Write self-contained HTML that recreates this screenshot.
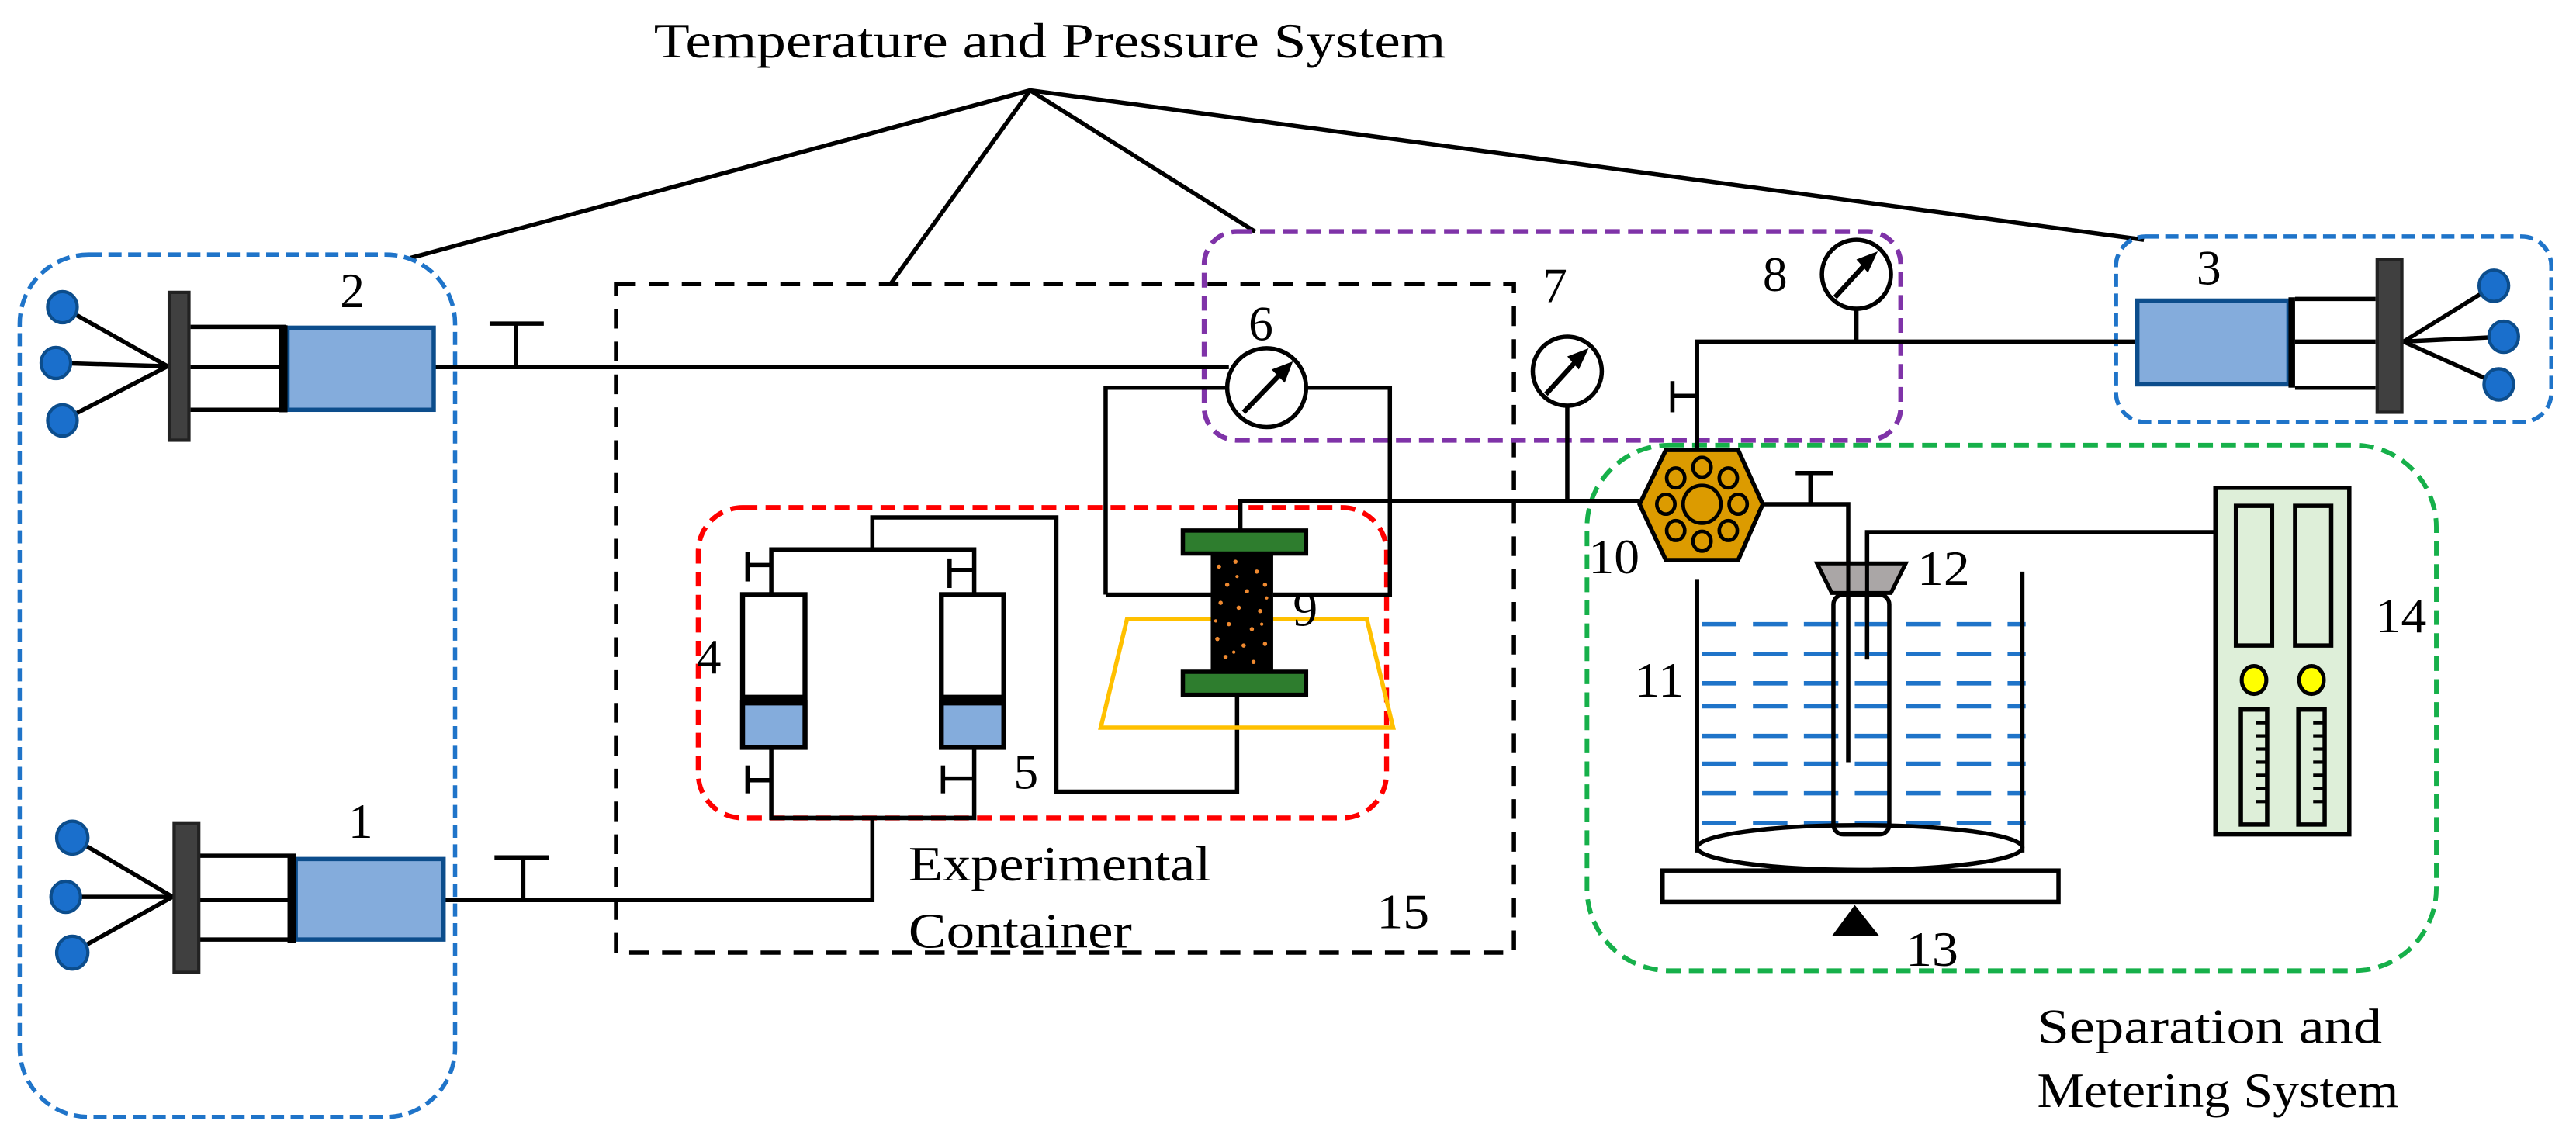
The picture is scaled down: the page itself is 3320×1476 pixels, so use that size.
<!DOCTYPE html>
<html><head><meta charset="utf-8"><style>html,body{margin:0;padding:0;background:#fff}svg{display:block}text{font-family:"Liberation Serif",serif;fill:#000}</style></head><body>
<svg width="3320" height="1476" viewBox="0 0 1568 697.1" xmlns="http://www.w3.org/2000/svg">
<g fill="none" stroke-linecap="butt">
<g stroke="#000" stroke-width="2.6">
<line x1="627" y1="55" x2="250" y2="157"/>
<line x1="627" y1="55" x2="542" y2="173"/>
<line x1="627" y1="55" x2="764" y2="141"/>
<line x1="627" y1="55" x2="1305" y2="146"/>
</g>
<rect x="12" y="155" width="265" height="525" rx="42" stroke="#1f74c9" stroke-width="2.6" stroke-dasharray="8 4"/>
<rect x="375" y="173" width="546.5" height="407" stroke="#000" stroke-width="2.6" stroke-dasharray="12 8"/>
<rect x="425" y="309" width="419" height="189" rx="27" stroke="#f00" stroke-width="3" stroke-dasharray="9 5"/>
<rect x="733" y="141" width="424" height="127" rx="20" stroke="#7f33a8" stroke-width="3" stroke-dasharray="9 5"/>
<rect x="1288" y="144" width="265" height="113" rx="18" stroke="#1f74c9" stroke-width="2.6" stroke-dasharray="8 4"/>
<rect x="966" y="271" width="517" height="320" rx="50" stroke="#16b04a" stroke-width="2.8" stroke-dasharray="9 5"/>

<g stroke="#000" stroke-width="2.6">
<polyline points="264,223.5 748,223.5"/>
<line x1="314" y1="197" x2="314" y2="223.5"/><line x1="298" y1="197" x2="331" y2="197"/>
<polyline points="270,548 531,548 531,498"/>
<line x1="318.5" y1="522" x2="318.5" y2="548"/><line x1="301" y1="522" x2="334" y2="522"/>
<polyline points="673,362 673,236 748,236"/>
<polyline points="795,236 846,236 846,362 775,362"/>
<line x1="673" y1="362" x2="737" y2="362"/>
<polyline points="755,323 755,305 998,305"/>
<polyline points="753,423 753,482 643,482 643,315 531,315 531,334.5"/>
<polyline points="469.5,362 469.5,334.5 593,334.5 593,362"/>
<polyline points="469.5,455 469.5,498 593,498 593,455"/>
<line x1="455" y1="336" x2="455" y2="354"/><line x1="455" y1="344" x2="469.5" y2="344"/>
<line x1="578" y1="340" x2="578" y2="358"/><line x1="578" y1="347" x2="593" y2="347"/>
<line x1="455" y1="466" x2="455" y2="483"/><line x1="455" y1="475" x2="469.5" y2="475"/>
<line x1="574" y1="466" x2="574" y2="483"/><line x1="574" y1="474" x2="593" y2="474"/>
<line x1="954" y1="248" x2="954" y2="305"/>
<line x1="1130" y1="189" x2="1130" y2="208"/>
<polyline points="1033,273 1033,208 1301,208"/>
<line x1="1018" y1="232" x2="1018" y2="251"/><line x1="1018" y1="241" x2="1033" y2="241"/>
<polyline points="1073,307 1125,307 1125,464"/>
<line x1="1102" y1="288" x2="1102" y2="307"/><line x1="1093" y1="288" x2="1116" y2="288"/>
<polyline points="1348.5,324 1136.5,324 1136.5,401.5"/>
</g>

<g stroke="#000" stroke-width="2.6">
<line x1="116" y1="199" x2="174" y2="199"/><line x1="116" y1="223.5" x2="174" y2="223.5"/><line x1="116" y1="249.5" x2="174" y2="249.5"/>
<line x1="102" y1="223" x2="38" y2="187"/><line x1="102" y1="223" x2="34" y2="221"/><line x1="102" y1="223" x2="38" y2="256"/>
<line x1="120" y1="521" x2="180" y2="521"/><line x1="120" y1="548" x2="180" y2="548"/><line x1="120" y1="572" x2="180" y2="572"/>
<line x1="105" y1="546" x2="44" y2="510"/><line x1="105" y1="546" x2="40" y2="546"/><line x1="105" y1="546" x2="44" y2="580"/>
<line x1="1397" y1="182" x2="1446" y2="182"/><line x1="1397" y1="208" x2="1446" y2="208"/><line x1="1397" y1="236" x2="1446" y2="236"/>
<line x1="1463" y1="208" x2="1518" y2="174"/><line x1="1463" y1="208" x2="1524" y2="205"/><line x1="1463" y1="208" x2="1521" y2="234"/>
</g>
<rect x="103" y="178" width="12" height="90" fill="#404040" stroke="#222" stroke-width="2"/>
<rect x="175" y="199.5" width="89" height="50" fill="#84acdc" stroke="#0c4d8c" stroke-width="2.6"/>
<rect x="170" y="198" width="5" height="53" fill="#000"/>
<rect x="106" y="501" width="15" height="91" fill="#404040" stroke="#222" stroke-width="2"/>
<rect x="180" y="523" width="90" height="49" fill="#84acdc" stroke="#0c4d8c" stroke-width="2.6"/>
<rect x="175" y="521" width="5" height="53" fill="#000"/>
<rect x="1447" y="158" width="15" height="93" fill="#404040" stroke="#222" stroke-width="2"/>
<rect x="1301" y="183" width="92" height="51" fill="#84acdc" stroke="#0c4d8c" stroke-width="2.6"/>
<rect x="1393" y="181" width="4" height="55" fill="#000"/>
<g fill="#1a6fcc" stroke="#0c4d8c" stroke-width="2">
<ellipse cx="38" cy="187" rx="9" ry="9.5"/><ellipse cx="34" cy="221" rx="9" ry="9.5"/><ellipse cx="38" cy="256" rx="9" ry="9.5"/>
<ellipse cx="44" cy="510" rx="9.5" ry="10"/><ellipse cx="40" cy="546" rx="9" ry="9.5"/><ellipse cx="44" cy="580" rx="9.5" ry="10"/>
<ellipse cx="1518" cy="174" rx="9" ry="9.5"/><ellipse cx="1524" cy="205" rx="9" ry="9.5"/><ellipse cx="1521" cy="234" rx="9" ry="9.5"/>
</g>

<g stroke="#000" stroke-width="3">
<rect x="452" y="362" width="38" height="93" fill="#fff"/>
<rect x="452" y="428" width="38" height="27" fill="#84acdc"/>
<rect x="573" y="362" width="38" height="93" fill="#fff"/>
<rect x="573" y="428" width="38" height="27" fill="#84acdc"/>
</g>
<rect x="452" y="423" width="38" height="5" fill="#000"/>
<rect x="573" y="423" width="38" height="5" fill="#000"/>

<polygon points="686,377 832,377 848,443 670,443" stroke="#ffc000" stroke-width="2.6"/>
<rect x="737" y="336" width="38" height="73" fill="#000"/>
<g fill="#f08a30">
<circle cx="742" cy="345" r="1.3"/><circle cx="752" cy="342" r="1.3"/><circle cx="765" cy="348" r="1.3"/><circle cx="747" cy="356" r="1.3"/><circle cx="759" cy="360" r="1.3"/><circle cx="770" cy="356" r="1.3"/><circle cx="743" cy="367" r="1.3"/><circle cx="754" cy="370" r="1.3"/><circle cx="767" cy="372" r="1.3"/><circle cx="748" cy="380" r="1.3"/><circle cx="762" cy="383" r="1.3"/><circle cx="741" cy="389" r="1.3"/><circle cx="757" cy="393" r="1.3"/><circle cx="770" cy="392" r="1.3"/><circle cx="746" cy="400" r="1.3"/><circle cx="763" cy="403" r="1.3"/><circle cx="753" cy="351" r="1"/><circle cx="771" cy="364" r="1"/><circle cx="740" cy="378" r="1"/><circle cx="768" cy="380" r="1"/><circle cx="751" cy="397" r="1"/>
</g>
<rect x="720" y="323" width="75" height="14" fill="#2e7d2e" stroke="#000" stroke-width="2.6"/>
<rect x="720" y="409" width="75" height="14" fill="#2e7d2e" stroke="#000" stroke-width="2.6"/>

<g stroke="#000" stroke-width="2.6" fill="#fff">
<circle cx="771" cy="236" r="24"/>
<circle cx="954" cy="226" r="21"/>
<circle cx="1130" cy="167" r="21"/>
</g>
<g stroke="#000" stroke-width="3">
<line x1="757" y1="251" x2="782" y2="225"/><line x1="941" y1="240" x2="962" y2="217"/><line x1="1117" y1="181" x2="1138" y2="158"/>
</g>
<g fill="#000">
<polygon points="787,220 774,225 782,233"/>
<polygon points="967,212 954,217 961,225"/>
<polygon points="1143,153 1130,158 1137,166"/>
</g>

<polygon points="998,307 1014,274 1058,274 1073,307 1058,341 1014,341" fill="#dc9b00" stroke="#000" stroke-width="2.6"/>
<g stroke="#000" stroke-width="2.2" fill="#dc9b00">
<circle cx="1036" cy="307" r="11.5"/>
<ellipse cx="1036" cy="284.5" rx="5.5" ry="6"/><ellipse cx="1052" cy="291" rx="5.5" ry="6"/><ellipse cx="1058" cy="307" rx="5.5" ry="6"/><ellipse cx="1052" cy="323" rx="5.5" ry="6"/>
<ellipse cx="1036" cy="329.5" rx="5.5" ry="6"/><ellipse cx="1020" cy="323" rx="5.5" ry="6"/><ellipse cx="1014" cy="307" rx="5.5" ry="6"/><ellipse cx="1020" cy="291" rx="5.5" ry="6"/>
</g>

<g stroke="#1f74c9" stroke-width="2.6" stroke-dasharray="21 10">
<line x1="1036" y1="380" x2="1233" y2="380"/><line x1="1036" y1="398" x2="1233" y2="398"/><line x1="1036" y1="416" x2="1233" y2="416"/><line x1="1036" y1="430" x2="1233" y2="430"/>
<line x1="1036" y1="448" x2="1233" y2="448"/><line x1="1036" y1="465" x2="1233" y2="465"/><line x1="1036" y1="483" x2="1233" y2="483"/><line x1="1036" y1="501" x2="1233" y2="501"/>
</g>
<g stroke="#000" stroke-width="2.6">
<line x1="1033" y1="353" x2="1033" y2="519"/><line x1="1231" y1="348" x2="1231" y2="519"/>
<ellipse cx="1132" cy="516" rx="99" ry="13.6"/>
<rect x="1116" y="362" width="34" height="146" rx="6"/>
</g>
<polygon points="1106,343 1160,343 1151,361 1115,361" fill="#aaa6a6" stroke="#000" stroke-width="2.4"/>
<line x1="1125" y1="343" x2="1125" y2="464" stroke="#000" stroke-width="2.4"/>
<line x1="1136.5" y1="324" x2="1136.5" y2="401.5" stroke="#000" stroke-width="2.4"/>
<rect x="1012" y="530" width="241" height="19" fill="#fff" stroke="#000" stroke-width="2.6"/>
<polygon points="1129,551 1115,570 1144,570" fill="#000"/>

<rect x="1348.5" y="297" width="81.5" height="211" fill="#deefd9" stroke="#000" stroke-width="2.6"/>
<g stroke="#000" stroke-width="2.6">
<rect x="1361" y="308" width="22" height="85"/><rect x="1397" y="308" width="22" height="85"/>
<rect x="1364" y="432" width="16" height="70"/><rect x="1399" y="432" width="16" height="70"/>
</g>
<g fill="#ffff00" stroke="#000" stroke-width="2.4"><ellipse cx="1372" cy="414" rx="7.5" ry="8.5"/><ellipse cx="1407" cy="414" rx="7.5" ry="8.5"/></g>
<g stroke="#000" stroke-width="2">
<line x1="1373" y1="440" x2="1380" y2="440"/><line x1="1373" y1="448" x2="1380" y2="448"/><line x1="1373" y1="456" x2="1380" y2="456"/><line x1="1373" y1="464" x2="1380" y2="464"/><line x1="1373" y1="472" x2="1380" y2="472"/><line x1="1373" y1="480" x2="1380" y2="480"/><line x1="1373" y1="488" x2="1380" y2="488"/>
<line x1="1408" y1="440" x2="1415" y2="440"/><line x1="1408" y1="448" x2="1415" y2="448"/><line x1="1408" y1="456" x2="1415" y2="456"/><line x1="1408" y1="464" x2="1415" y2="464"/><line x1="1408" y1="472" x2="1415" y2="472"/><line x1="1408" y1="480" x2="1415" y2="480"/><line x1="1408" y1="488" x2="1415" y2="488"/>
</g>
</g>

<g font-size="30">
<text x="398" y="35" textLength="482" lengthAdjust="spacingAndGlyphs">Temperature and Pressure System</text>
<text x="207" y="187">2</text>
<text x="212" y="510">1</text>
<text x="1337" y="173">3</text>
<text x="424" y="410">4</text>
<text x="617" y="480">5</text>
<text x="760" y="207">6</text>
<text x="939" y="184">7</text>
<text x="1073" y="177">8</text>
<text x="787" y="381">9</text>
<text x="967" y="349" textLength="31" lengthAdjust="spacingAndGlyphs">10</text>
<text x="995" y="424" textLength="30" lengthAdjust="spacingAndGlyphs">11</text>
<text x="1167" y="356" textLength="32" lengthAdjust="spacingAndGlyphs">12</text>
<text x="1160" y="588" textLength="32" lengthAdjust="spacingAndGlyphs">13</text>
<text x="1446" y="385" textLength="31" lengthAdjust="spacingAndGlyphs">14</text>
<text x="838" y="565" textLength="32" lengthAdjust="spacingAndGlyphs">15</text>
<text x="553" y="536" textLength="184" lengthAdjust="spacingAndGlyphs">Experimental</text>
<text x="553" y="577" textLength="136" lengthAdjust="spacingAndGlyphs">Container</text>
<text x="1240" y="635" textLength="210" lengthAdjust="spacingAndGlyphs">Separation and</text>
<text x="1240" y="674" textLength="220" lengthAdjust="spacingAndGlyphs">Metering System</text>
</g>
</svg>
</body></html>
